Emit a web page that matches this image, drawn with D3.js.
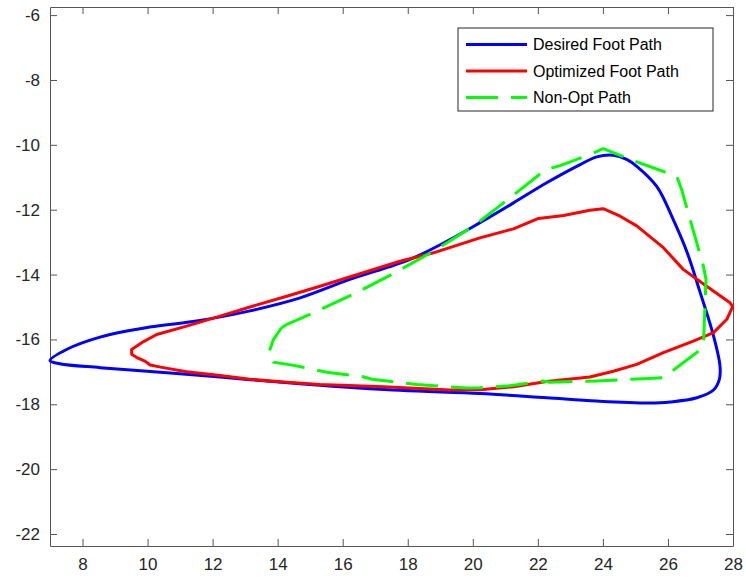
<!DOCTYPE html>
<html>
<head>
<meta charset="utf-8">
<script src="https://cdn.jsdelivr.net/npm/d3@7"></script>
<style>
  body { margin: 0; background: #fff; }
  text { font-family: "Liberation Sans", Arial, sans-serif; }
</style>
</head>
<body>
<div id="chart"></div>
<script>
// data (x, y pairs, closed loops)
var desiredX = [7.0, 7.51, 8.54, 10.07, 11.4, 13.15, 14.69, 16.22, 18.07, 19.3, 20.22, 21.25, 22.27, 23.3, 23.81, 24.32, 24.73, 25.05, 25.66, 26.16, 26.59, 26.99, 27.39, 27.6, 27.58, 27.4, 26.89, 26.07, 25.4, 23.81, 22.27, 20.22, 17.76, 15.3, 13.15, 12.23, 10.59, 8.54, 7.3];
var desiredY = [-16.65, -16.31, -15.93, -15.62, -15.45, -15.12, -14.72, -14.15, -13.53, -12.92, -12.4, -11.79, -11.17, -10.61, -10.37, -10.32, -10.45, -10.67, -11.29, -12.3, -13.32, -14.55, -15.85, -16.82, -17.23, -17.56, -17.8, -17.93, -17.96, -17.9, -17.8, -17.67, -17.57, -17.41, -17.24, -17.16, -17.03, -16.87, -16.75];

var optX = [9.51, 9.82, 10.28, 11.2, 12.23, 13.25, 14.28, 15.3, 17.76, 18.79, 20.22, 21.25, 22.02, 22.79, 23.6, 24.01, 24.53, 25.04, 25.86, 26.47, 27.19, 27.91, 27.99, 27.81, 27.4, 26.78, 25.86, 25.04, 24.32, 23.6, 22.27, 21.25, 20.22, 19.3, 17.25, 15.3, 14.28, 13.15, 12.23, 11.2, 10.48, 10.08, 9.92, 9.67, 9.51];
var optY = [-16.31, -16.1, -15.85, -15.59, -15.28, -14.97, -14.67, -14.36, -13.59, -13.33, -12.87, -12.59, -12.27, -12.18, -12.02, -11.97, -12.2, -12.5, -13.17, -13.84, -14.36, -14.87, -14.99, -15.38, -15.79, -16.05, -16.41, -16.77, -16.98, -17.16, -17.3, -17.46, -17.55, -17.56, -17.46, -17.39, -17.32, -17.23, -17.11, -17.0, -16.87, -16.79, -16.67, -16.56, -16.46];

var nonOptX = [14.12, 14.28, 15.05, 16.32, 17.56, 18.79, 20.02, 21.15, 22.22, 22.68, 23.6, 24.01, 24.84, 26.27, 26.42, 27.09, 27.17, 27.09, 26.88, 25.86, 25.24, 23.81, 22.37, 22.17, 21.04, 20.22, 19.81, 18.28, 16.9, 16.63, 15.51, 14.49, 13.87, 13.71, 13.87, 14.12];
var nonOptY = [-15.64, -15.54, -15.2, -14.61, -13.97, -13.28, -12.51, -11.63, -10.78, -10.64, -10.3, -10.12, -10.45, -10.97, -11.38, -13.74, -14.15, -16.2, -16.41, -17.18, -17.21, -17.28, -17.32, -17.28, -17.44, -17.49, -17.5, -17.39, -17.23, -17.15, -17.01, -16.8, -16.7, -16.46, -16.0, -15.64];

var xTicks = [8, 10, 12, 14, 16, 18, 20, 22, 24, 26, 28];
var yTicks = [-22, -20, -18, -16, -14, -12, -10, -8, -6];
var legendNames = ["Desired Foot Path", "Optimized Foot Path", "Non-Opt Path"];

var margin = {top: 7, right: 13, bottom: 42, left: 50},
    width = 746 - margin.left - margin.right,
    height = 588 - margin.top - margin.bottom;

var x = d3.scaleLinear().domain([7, 28]).range([0, width]);
var y = d3.scaleLinear().domain([-22.37, -5.75]).range([height, 0]);

var svg = d3.select("#chart").append("svg")
    .attr("width", 746)
    .attr("height", 588)
  .append("g")
    .attr("transform", "translate(" + margin.left + "," + margin.top + ")");

function pts(xs, ys) {
  return xs.map(function(v, i) { return [v, ys[i]]; });
}

var axisColor = "#555";
var plain = function(d) { return String(d); };

// axes with inside ticks on all four sides
var gx = svg.append("g")
    .attr("transform", "translate(0," + height + ")")
    .call(d3.axisBottom(x).tickValues(xTicks).tickSize(-7).tickSizeOuter(0).tickPadding(12).tickFormat(plain));
var gxt = svg.append("g")
    .call(d3.axisTop(x).tickValues(xTicks).tickSize(-7).tickSizeOuter(0).tickFormat(""));
var gy = svg.append("g")
    .call(d3.axisLeft(y).tickValues(yTicks).tickSize(-7).tickSizeOuter(0).tickPadding(10).tickFormat(plain));
var gyr = svg.append("g")
    .attr("transform", "translate(" + width + ",0)")
    .call(d3.axisRight(y).tickValues(yTicks).tickSize(-7).tickSizeOuter(0).tickFormat(""));

[gx, gxt, gy, gyr].forEach(function(g) {
  g.selectAll(".domain").attr("stroke", axisColor);
  g.selectAll(".tick line").attr("stroke", axisColor);
  g.selectAll("text").attr("fill", "#262626").style("font-size", "17px")
    .style("font-family", "'Liberation Sans', Arial, sans-serif");
});

var line = d3.line()
    .x(function(d) { return x(d[0]); })
    .y(function(d) { return y(d[1]); });

svg.append("path")
    .attr("fill", "none")
    .attr("stroke", "#0000ff")
    .attr("stroke-width", 3)
    .attr("d", line.curve(d3.curveCatmullRomClosed)(pts(desiredX, desiredY)));

svg.append("path")
    .attr("fill", "none")
    .attr("stroke", "#ff0000")
    .attr("stroke-width", 3)
    .attr("stroke-linejoin", "round")
    .attr("d", line.curve(d3.curveLinearClosed)(pts(optX, optY)));

svg.append("path")
    .attr("fill", "none")
    .attr("stroke", "#00ff00")
    .attr("stroke-width", 3)
    .attr("stroke-dasharray", "32,13")
    .attr("d", line.curve(d3.curveLinear)(pts(nonOptX, nonOptY)));

// legend
var legend = svg.append("g").attr("transform", "translate(" + (458 - margin.left) + "," + (28 - margin.top) + ")");
legend.append("rect")
    .attr("width", 255).attr("height", 83)
    .attr("fill", "#fff").attr("stroke", "#262626").attr("stroke-width", 1);

var colors = ["#0000ff", "#ff0000", "#00ff00"];
legendNames.forEach(function(name, i) {
  var ly = 16.5 + i * 26.5;
  legend.append("line")
      .attr("x1", 8).attr("x2", 69).attr("y1", ly).attr("y2", ly)
      .attr("stroke", colors[i]).attr("stroke-width", 3)
      .attr("stroke-dasharray", i == 2 ? "32,13" : null);
  legend.append("text")
      .attr("x", 75).attr("y", ly).attr("dy", "0.35em")
      .attr("fill", "#000")
      .style("font-size", "16px")
      .text(name);
});
</script>
</body>
</html>
